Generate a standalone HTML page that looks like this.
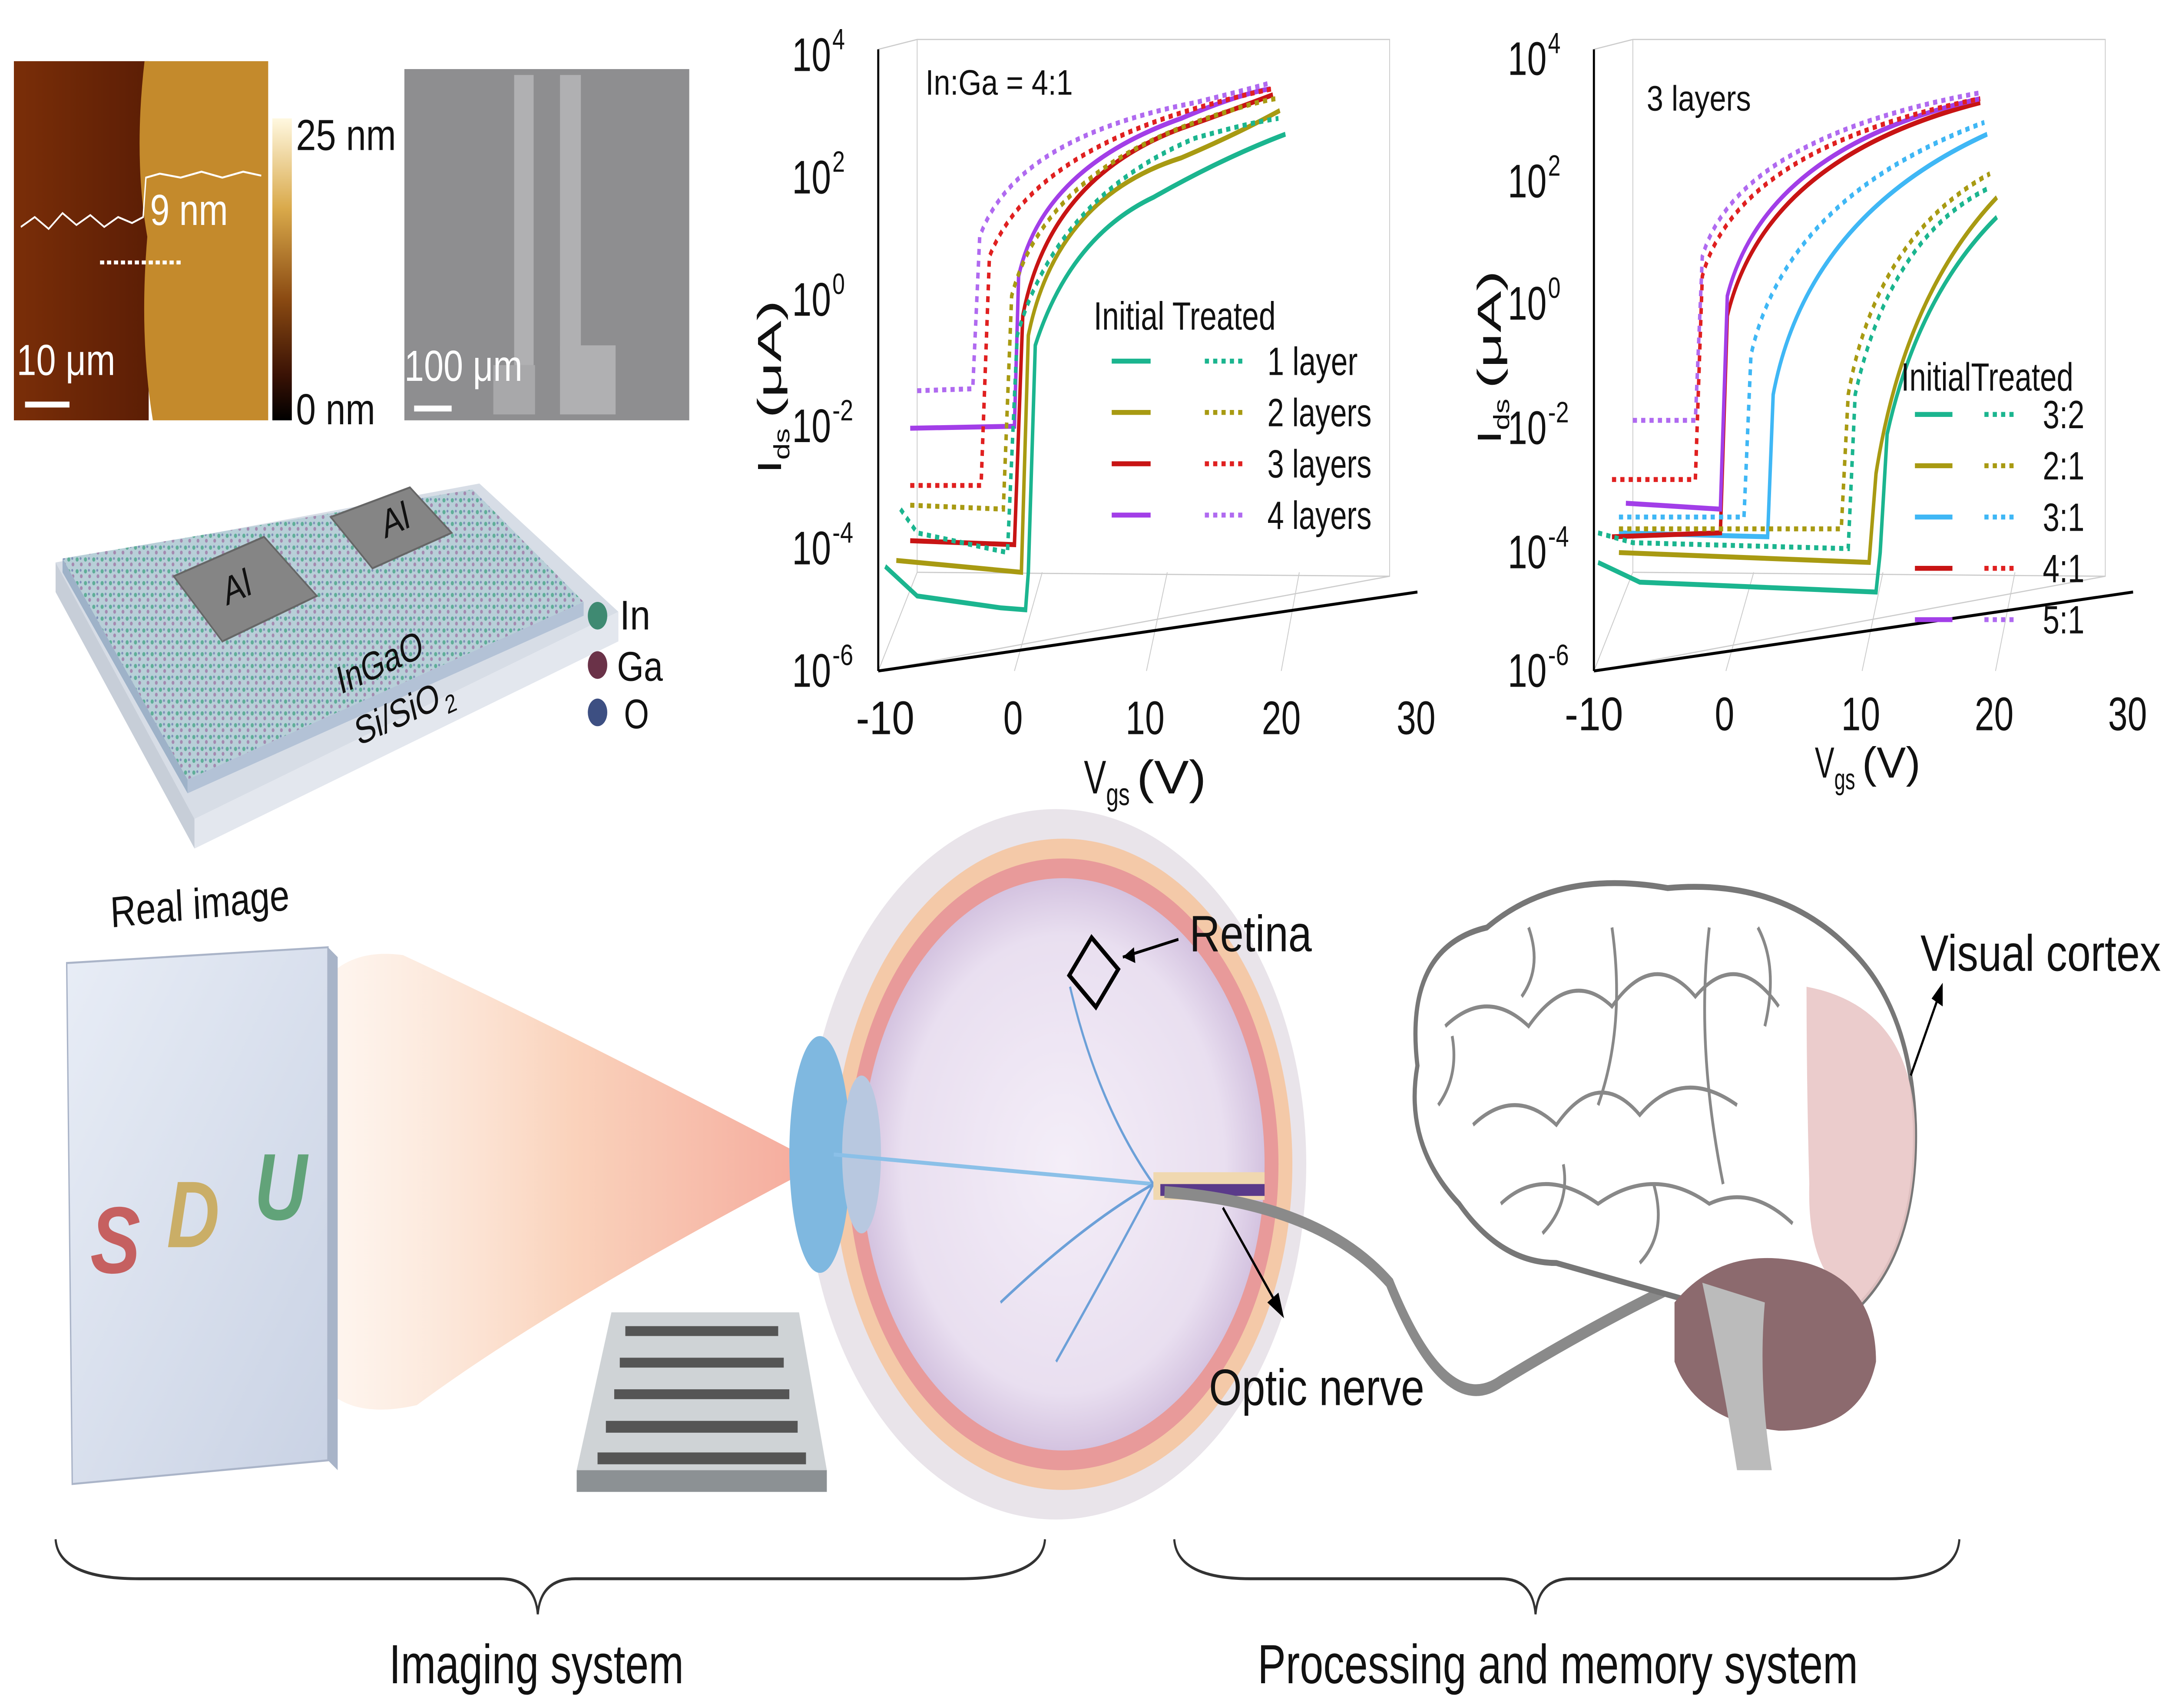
<!DOCTYPE html>
<html><head><meta charset="utf-8">
<style>
html,body{margin:0;padding:0;background:#fff;width:100%;height:100%;overflow:hidden;}
svg{display:block;width:100vw;height:100vh;}
text{font-family:"Liberation Sans",Arial,sans-serif;fill:#111;}
</style></head>
<body>
<svg viewBox="0 0 1563 865.5" preserveAspectRatio="none" xmlns="http://www.w3.org/2000/svg">
<defs>
<linearGradient id="cb" x1="0" y1="0" x2="0" y2="1">
<stop offset="0" stop-color="#fff8e0"/><stop offset="0.3" stop-color="#d9a94a"/><stop offset="0.6" stop-color="#8a4a12"/><stop offset="0.85" stop-color="#3a1205"/><stop offset="1" stop-color="#000"/></linearGradient>
<linearGradient id="afmL" x1="0" y1="0" x2="1" y2="0"><stop offset="0" stop-color="#7a2e08"/><stop offset="1" stop-color="#5c1e05"/></linearGradient>
<linearGradient id="cone" x1="1" y1="0" x2="0" y2="0"><stop offset="0" stop-color="#f39a8a"/><stop offset="0.5" stop-color="#f9cbb0"/><stop offset="1" stop-color="#fdeee2" stop-opacity="0.6"/></linearGradient>
<linearGradient id="panel" x1="0" y1="0" x2="1" y2="1"><stop offset="0" stop-color="#e8edf6"/><stop offset="1" stop-color="#c9d2e4"/></linearGradient>
<radialGradient id="eyeg" cx="0.5" cy="0.5" r="0.5"><stop offset="0" stop-color="#f4eef8"/><stop offset="0.8" stop-color="#e9dff0"/><stop offset="1" stop-color="#d4c3e0"/></radialGradient>
<pattern id="dots" width="6" height="6" patternUnits="userSpaceOnUse"><rect width="6" height="6" fill="#b8cfd8"/><circle cx="1.5" cy="1.5" r="1.1" fill="#5fae98"/><circle cx="4.5" cy="4" r="1" fill="#a48ab0"/><circle cx="4" cy="1" r="0.7" fill="#7f8fb8"/></pattern>
</defs>

<!-- AFM -->
<rect x="10" y="31" width="97" height="182" fill="url(#afmL)"/>
<path d="M104,31 L193,31 L193,213 L110,213 Q100,170 106,120 Q96,80 104,31Z" fill="#c48a2c"/>
<polyline points="15,115 25,110 35,116 45,108 55,114 65,109 75,115 85,110 95,113 103,110 105,90 115,88 130,90 145,87 160,90 175,87 188,89" fill="none" stroke="#fff" stroke-width="1"/>
<line x1="72" y1="133" x2="132" y2="133" stroke="#fff" stroke-width="2" stroke-dasharray="3,2"/>
<text x="108" y="114" font-size="22" textLength="56" lengthAdjust="spacingAndGlyphs" style="fill:#fff">9 nm</text>
<text x="12" y="190" font-size="22" textLength="71" lengthAdjust="spacingAndGlyphs" style="fill:#fff">10 μm</text>
<line x1="18" y1="205" x2="50" y2="205" stroke="#fff" stroke-width="3"/>
<rect x="196" y="60" width="14" height="153" fill="url(#cb)"/>
<text x="213" y="76" font-size="22" textLength="72" lengthAdjust="spacingAndGlyphs">25 nm</text>
<text x="213" y="215" font-size="22" textLength="57" lengthAdjust="spacingAndGlyphs">0 nm</text>
<!-- SEM -->
<rect x="291" y="35" width="205" height="178" fill="#8e8e90"/>
<rect x="370" y="38" width="14" height="170" fill="#b0b0b2"/>
<rect x="403" y="38" width="15" height="140" fill="#b0b0b2"/>
<rect x="403" y="175" width="40" height="35" fill="#b0b0b2"/>
<rect x="355" y="185" width="30" height="25" fill="#a8a8aa"/>
<text x="291" y="193" font-size="22" textLength="85" lengthAdjust="spacingAndGlyphs" style="fill:#fff">100 μm</text>
<line x1="298" y1="207" x2="325" y2="207" stroke="#fff" stroke-width="3"/>

<!-- device -->
<polygon points="40,285 345,245 445,310 140,415" fill="#d7dde6"/>
<polygon points="40,285 140,415 140,430 40,300" fill="#c7ced8"/>
<polygon points="140,415 445,310 445,325 140,430" fill="#e3e7ee"/>
<polygon points="45,283 340,248 420,305 135,395" fill="url(#dots)"/>
<polygon points="45,283 135,395 135,402 45,290" fill="#9eb2c8"/>
<polygon points="135,395 420,305 420,312 135,402" fill="#b3c2d6"/>
<polygon points="125,292 190,272 228,302 160,325" fill="#858585" stroke="#666"/>
<polygon points="238,262 295,247 325,270 268,288" fill="#858585" stroke="#666"/>
<text x="163" y="307" font-size="20" textLength="20" lengthAdjust="spacingAndGlyphs" transform="rotate(-18 163 307)">Al</text>
<text x="277" y="273" font-size="20" textLength="20" lengthAdjust="spacingAndGlyphs" transform="rotate(-18 277 273)">Al</text>
<text x="245" y="352" font-size="20" textLength="64" lengthAdjust="spacingAndGlyphs" transform="rotate(-18 245 352)">InGaO</text>
<text x="258" y="378" font-size="20" textLength="63" lengthAdjust="spacingAndGlyphs" transform="rotate(-18 258 378)">Si/SiO</text>
<text x="322" y="362" font-size="13" textLength="8" lengthAdjust="spacingAndGlyphs" transform="rotate(-18 322 362)">2</text>
<circle cx="430" cy="312" r="7" fill="#3f8a72"/><text x="446" y="319" font-size="21" textLength="22" lengthAdjust="spacingAndGlyphs">In</text>
<circle cx="430" cy="337" r="7" fill="#6a3248"/><text x="444" y="345" font-size="21" textLength="33" lengthAdjust="spacingAndGlyphs">Ga</text>
<circle cx="430" cy="361" r="7" fill="#3d4f82"/><text x="449" y="369" font-size="21" textLength="18" lengthAdjust="spacingAndGlyphs">O</text>

<!-- plot 1 -->
<g stroke="#ccc" stroke-width="0.6" fill="none">
<polyline points="632,25 660,20 1000,20 1000,292 632,340"/>
<line x1="660" y1="20" x2="660" y2="290"/><line x1="660" y1="290" x2="1000" y2="292"/>
<line x1="632" y1="340" x2="660" y2="290"/>
<line x1="730" y1="340" x2="750" y2="290"/><line x1="825" y1="340" x2="840" y2="290"/><line x1="922" y1="340" x2="935" y2="290"/>
</g>
<line x1="632" y1="25" x2="632" y2="340" stroke="#000" stroke-width="1.5"/>
<line x1="632" y1="340" x2="1020" y2="300" stroke="#000" stroke-width="1.5"/>
<g font-size="24" lengthAdjust="spacingAndGlyphs">
<text x="570" y="36" textLength="28" lengthAdjust="spacingAndGlyphs">10</text><text x="599" y="25" font-size="15" textLength="9" lengthAdjust="spacingAndGlyphs">4</text>
<text x="570" y="98" textLength="28" lengthAdjust="spacingAndGlyphs">10</text><text x="599" y="87" font-size="15" textLength="9" lengthAdjust="spacingAndGlyphs">2</text>
<text x="570" y="160" textLength="28" lengthAdjust="spacingAndGlyphs">10</text><text x="599" y="149" font-size="15" textLength="9" lengthAdjust="spacingAndGlyphs">0</text>
<text x="570" y="224" textLength="28" lengthAdjust="spacingAndGlyphs">10</text><text x="599" y="213" font-size="15" textLength="15" lengthAdjust="spacingAndGlyphs">-2</text>
<text x="570" y="286" textLength="28" lengthAdjust="spacingAndGlyphs">10</text><text x="599" y="275" font-size="15" textLength="15" lengthAdjust="spacingAndGlyphs">-4</text>
<text x="570" y="348" textLength="28" lengthAdjust="spacingAndGlyphs">10</text><text x="599" y="337" font-size="15" textLength="15" lengthAdjust="spacingAndGlyphs">-6</text>
<text x="616" y="372" textLength="42" lengthAdjust="spacingAndGlyphs">-10</text><text x="722" y="372" textLength="14" lengthAdjust="spacingAndGlyphs">0</text><text x="810" y="372" textLength="28" lengthAdjust="spacingAndGlyphs">10</text><text x="908" y="372" textLength="28" lengthAdjust="spacingAndGlyphs">20</text><text x="1005" y="372" textLength="28" lengthAdjust="spacingAndGlyphs">30</text>
<text x="780" y="402" textLength="16" lengthAdjust="spacingAndGlyphs">V</text><text x="796" y="408" font-size="16" textLength="17" lengthAdjust="spacingAndGlyphs">gs</text><text x="818" y="402" textLength="50" lengthAdjust="spacingAndGlyphs">(V)</text>
<g transform="translate(562,240) rotate(-90)"><text x="0" y="0" textLength="7" lengthAdjust="spacingAndGlyphs">I</text><text x="7" y="6" font-size="16" textLength="16" lengthAdjust="spacingAndGlyphs">ds</text><text x="28" y="0" textLength="60" lengthAdjust="spacingAndGlyphs">(μA)</text></g>
</g>
<text x="666" y="48" font-size="18" textLength="106" lengthAdjust="spacingAndGlyphs">In:Ga = 4:1</text>
<g fill="none" stroke-width="2.5">
<path d="M637,287 L660,302 L720,308 L738,309 L740,290 L745,175 Q770,120 830,100 Q880,80 925,68" stroke="#1bb58f"/>
<path d="M645,284 L735,290 L740,170 Q760,100 850,80 Q890,68 921,56" stroke="#a89a12"/>
<path d="M655,274 L730,276 L736,160 Q755,90 850,65 Q890,55 916,48" stroke="#c81414"/>
<path d="M655,217 L730,216 L733,140 Q750,85 850,60 Q890,48 914,45" stroke="#a23ee8"/>
<g stroke-dasharray="3,3">
<path d="M648,258 L660,270 L725,280 L732,170 Q760,100 860,70 Q900,62 920,60" stroke="#1bb58f"/>
<path d="M655,256 L722,258 L728,150 Q750,90 860,62 Q900,52 918,50" stroke="#a89a12"/>
<path d="M655,246 L706,246 L712,130 Q740,80 860,55 Q900,47 916,45" stroke="#e02020"/>
<path d="M660,198 L700,197 L705,120 Q730,70 860,52 Q900,45 914,42" stroke="#b06af0"/>
</g>
</g>
<text x="787" y="167" font-size="20" textLength="131" lengthAdjust="spacingAndGlyphs">Initial Treated</text>
<g stroke-width="2.5">
<line x1="800" y1="183" x2="828" y2="183" stroke="#1bb58f"/><line x1="867" y1="183" x2="895" y2="183" stroke="#1bb58f" stroke-dasharray="3,3"/>
<line x1="800" y1="209" x2="828" y2="209" stroke="#a89a12"/><line x1="867" y1="209" x2="895" y2="209" stroke="#a89a12" stroke-dasharray="3,3"/>
<line x1="800" y1="235" x2="828" y2="235" stroke="#c81414"/><line x1="867" y1="235" x2="895" y2="235" stroke="#e02020" stroke-dasharray="3,3"/>
<line x1="800" y1="261" x2="828" y2="261" stroke="#a23ee8"/><line x1="867" y1="261" x2="895" y2="261" stroke="#b06af0" stroke-dasharray="3,3"/>
</g>
<g font-size="20"><text x="912" y="190" textLength="65" lengthAdjust="spacingAndGlyphs">1 layer</text><text x="912" y="216" textLength="75" lengthAdjust="spacingAndGlyphs">2 layers</text><text x="912" y="242" textLength="75" lengthAdjust="spacingAndGlyphs">3 layers</text><text x="912" y="268" textLength="75" lengthAdjust="spacingAndGlyphs">4 layers</text></g>

<!-- plot 2 -->
<g stroke="#ccc" stroke-width="0.6" fill="none">
<polyline points="1147,25 1175,20 1515,20 1515,292 1147,340"/>
<line x1="1175" y1="20" x2="1175" y2="290"/><line x1="1175" y1="290" x2="1515" y2="292"/>
<line x1="1147" y1="340" x2="1175" y2="290"/>
<line x1="1242" y1="340" x2="1262" y2="290"/><line x1="1340" y1="340" x2="1355" y2="290"/><line x1="1436" y1="340" x2="1450" y2="290"/>
</g>
<line x1="1147" y1="25" x2="1147" y2="340" stroke="#000" stroke-width="1.5"/>
<line x1="1147" y1="340" x2="1535" y2="300" stroke="#000" stroke-width="1.5"/>
<g font-size="24">
<text x="1085" y="38" textLength="28" lengthAdjust="spacingAndGlyphs">10</text><text x="1114" y="27" font-size="15" textLength="9" lengthAdjust="spacingAndGlyphs">4</text>
<text x="1085" y="100" textLength="28" lengthAdjust="spacingAndGlyphs">10</text><text x="1114" y="89" font-size="15" textLength="9" lengthAdjust="spacingAndGlyphs">2</text>
<text x="1085" y="162" textLength="28" lengthAdjust="spacingAndGlyphs">10</text><text x="1114" y="151" font-size="15" textLength="9" lengthAdjust="spacingAndGlyphs">0</text>
<text x="1085" y="225" textLength="28" lengthAdjust="spacingAndGlyphs">10</text><text x="1114" y="214" font-size="15" textLength="15" lengthAdjust="spacingAndGlyphs">-2</text>
<text x="1085" y="288" textLength="28" lengthAdjust="spacingAndGlyphs">10</text><text x="1114" y="277" font-size="15" textLength="15" lengthAdjust="spacingAndGlyphs">-4</text>
<text x="1085" y="348" textLength="28" lengthAdjust="spacingAndGlyphs">10</text><text x="1114" y="337" font-size="15" textLength="15" lengthAdjust="spacingAndGlyphs">-6</text>
<text x="1126" y="370" textLength="42" lengthAdjust="spacingAndGlyphs">-10</text><text x="1234" y="370" textLength="14" lengthAdjust="spacingAndGlyphs">0</text><text x="1325" y="370" textLength="28" lengthAdjust="spacingAndGlyphs">10</text><text x="1421" y="370" textLength="28" lengthAdjust="spacingAndGlyphs">20</text><text x="1517" y="370" textLength="28" lengthAdjust="spacingAndGlyphs">30</text>
<text x="1306" y="394" font-size="22" textLength="14" lengthAdjust="spacingAndGlyphs">V</text><text x="1320" y="400" font-size="15" textLength="15" lengthAdjust="spacingAndGlyphs">gs</text><text x="1340" y="394" font-size="22" textLength="42" lengthAdjust="spacingAndGlyphs">(V)</text>
<g transform="translate(1080,225) rotate(-90)"><text x="0" y="0" textLength="7" lengthAdjust="spacingAndGlyphs">I</text><text x="7" y="6" font-size="16" textLength="16" lengthAdjust="spacingAndGlyphs">ds</text><text x="28" y="0" textLength="60" lengthAdjust="spacingAndGlyphs">(μA)</text></g>
</g>
<text x="1185" y="56" font-size="18" textLength="75" lengthAdjust="spacingAndGlyphs">3 layers</text>
<g fill="none" stroke-width="2.5">
<path d="M1150,285 L1180,295 L1350,300 L1353,280 L1358,220 Q1380,150 1437,110" stroke="#1bb58f"/>
<path d="M1165,280 L1345,285 L1350,240 Q1370,150 1437,100" stroke="#a89a12"/>
<path d="M1165,270 L1272,272 L1276,200 Q1300,110 1430,68" stroke="#3fb7f5"/>
<path d="M1160,272 L1238,270 L1243,160 Q1270,80 1425,52" stroke="#c81414"/>
<path d="M1170,255 L1238,258 L1243,150 Q1270,75 1425,50" stroke="#a23ee8"/>
<g stroke-dasharray="3,3">
<path d="M1150,270 L1175,275 L1330,278 L1335,200 Q1360,120 1432,95" stroke="#1bb58f"/>
<path d="M1165,268 L1325,268 L1330,200 Q1350,120 1432,88" stroke="#a89a12"/>
<path d="M1165,262 L1255,262 L1260,180 Q1285,100 1428,62" stroke="#3fb7f5"/>
<path d="M1160,243 L1220,243 L1225,140 Q1250,75 1425,50" stroke="#e02020"/>
<path d="M1175,213 L1220,213 L1225,130 Q1250,70 1425,47" stroke="#b06af0"/>
</g>
</g>
<text x="1368" y="198" font-size="20" textLength="124" lengthAdjust="spacingAndGlyphs">InitialTreated</text>
<g stroke-width="2.5">
<line x1="1378" y1="210" x2="1405" y2="210" stroke="#1bb58f"/><line x1="1428" y1="210" x2="1452" y2="210" stroke="#1bb58f" stroke-dasharray="3,3"/>
<line x1="1378" y1="236" x2="1405" y2="236" stroke="#a89a12"/><line x1="1428" y1="236" x2="1452" y2="236" stroke="#a89a12" stroke-dasharray="3,3"/>
<line x1="1378" y1="262" x2="1405" y2="262" stroke="#3fb7f5"/><line x1="1428" y1="262" x2="1452" y2="262" stroke="#3fb7f5" stroke-dasharray="3,3"/>
<line x1="1378" y1="288" x2="1405" y2="288" stroke="#c81414"/><line x1="1428" y1="288" x2="1452" y2="288" stroke="#e02020" stroke-dasharray="3,3"/>
<line x1="1378" y1="314" x2="1405" y2="314" stroke="#a23ee8"/><line x1="1428" y1="314" x2="1452" y2="314" stroke="#b06af0" stroke-dasharray="3,3"/>
</g>
<g font-size="20"><text x="1470" y="217" textLength="30" lengthAdjust="spacingAndGlyphs">3:2</text><text x="1470" y="243" textLength="30" lengthAdjust="spacingAndGlyphs">2:1</text><text x="1470" y="269" textLength="30" lengthAdjust="spacingAndGlyphs">3:1</text><text x="1470" y="295" textLength="30" lengthAdjust="spacingAndGlyphs">4:1</text><text x="1470" y="321" textLength="30" lengthAdjust="spacingAndGlyphs">5:1</text></g>

<!-- bottom: real image -->
<text x="80" y="470" font-size="22" textLength="129" lengthAdjust="spacingAndGlyphs" transform="rotate(-4 80 470)">Real image</text>
<path d="M230,500 Q250,480 290,484 Q400,520 590,590 Q400,660 300,712 Q250,720 230,700Z" fill="url(#cone)" opacity="0.85"/>
<polygon points="48,488 236,480 236,740 52,752" fill="url(#panel)" stroke="#aab4c8"/>
<polygon points="236,480 243,485 243,745 236,740" fill="#a8b4c8"/>
<text x="65" y="645" font-size="48" font-weight="bold" font-style="italic" textLength="36" lengthAdjust="spacingAndGlyphs" style="fill:#c24a48" opacity="0.85">S</text>
<text x="120" y="632" font-size="48" font-weight="bold" font-style="italic" textLength="38" lengthAdjust="spacingAndGlyphs" style="fill:#c8a650" opacity="0.85">D</text>
<text x="183" y="618" font-size="48" font-weight="bold" font-style="italic" textLength="38" lengthAdjust="spacingAndGlyphs" style="fill:#4e9a66" opacity="0.85">U</text>

<!-- chip -->
<polygon points="440,665 575,665 595,745 415,745" fill="#cfd3d6"/>
<polygon points="415,745 595,745 595,756 415,756" fill="#8c9194"/>
<g fill="#555">
<rect x="450" y="672" width="110" height="5"/><rect x="446" y="688" width="118" height="5"/><rect x="442" y="704" width="126" height="5"/><rect x="436" y="720" width="138" height="6"/><rect x="430" y="736" width="150" height="6"/>
</g>

<!-- eye -->
<circle cx="760" cy="590" r="180" fill="#e9e4ea"/>
<circle cx="765" cy="590" r="165" fill="#f4c9a8"/>
<circle cx="765" cy="590" r="155" fill="#e89a9a"/>
<circle cx="765" cy="590" r="145" fill="url(#eyeg)"/>
<ellipse cx="590" cy="585" rx="22" ry="60" fill="#7fb8e0"/>
<ellipse cx="620" cy="585" rx="14" ry="40" fill="#b8c8e0"/>
<path d="M600,585 L830,600" stroke="#8bc0e8" stroke-width="2"/>
<path d="M830,600 Q790,560 770,500 M830,600 Q780,620 720,660 M830,600 Q800,640 760,690" stroke="#6ca0d8" stroke-width="1.5" fill="none"/>
<rect x="830" y="594" width="80" height="14" fill="#f0d8b0"/>
<rect x="835" y="600" width="75" height="6" fill="#5a3a8a"/>
<rect x="775" y="480" width="25" height="25" fill="none" stroke="#000" stroke-width="2.5" transform="rotate(40 787 492)"/>
<line x1="808" y1="485" x2="848" y2="476" stroke="#000" stroke-width="1.5"/>
<polygon points="808,485 816,480 817,488" fill="#000"/>
<text x="856" y="482" font-size="26" textLength="88" lengthAdjust="spacingAndGlyphs">Retina</text>
<!-- optic nerve -->
<path d="M838,604 Q950,610 1000,650 Q1040,720 1080,700 Q1150,670 1210,650" fill="none" stroke="#8a8a8a" stroke-width="6"/>
<line x1="880" y1="612" x2="918" y2="660" stroke="#000" stroke-width="1.5"/>
<polygon points="924,668 912,660 920,655" fill="#000"/>
<text x="870" y="712" font-size="26" textLength="155" lengthAdjust="spacingAndGlyphs">Optic nerve</text>

<!-- brain -->
<path d="M1020,540 Q1010,480 1070,470 Q1120,440 1200,450 Q1280,445 1330,480 Q1375,510 1378,570 Q1380,630 1340,660 Q1290,680 1220,660 Q1170,650 1120,640 Q1080,640 1050,610 Q1010,580 1020,540Z" fill="#fff" stroke="#777" stroke-width="3"/>
<path d="M1300,500 Q1375,510 1378,570 Q1380,630 1340,660 Q1300,650 1302,600 Q1300,550 1300,500Z" fill="#e9c6c6" opacity="0.9"/>
<g fill="none" stroke="#888" stroke-width="2">
<path d="M1040,520 Q1070,500 1100,520 Q1130,490 1160,510 Q1190,480 1220,505 Q1250,480 1280,510"/>
<path d="M1060,570 Q1090,550 1120,570 Q1150,540 1180,565 Q1210,540 1250,560"/>
<path d="M1080,610 Q1110,590 1150,610 Q1190,590 1230,610 Q1260,600 1290,620"/>
<path d="M1160,470 Q1170,520 1150,560 M1230,470 Q1220,530 1240,600"/>
<path d="M1035,560 Q1050,545 1045,525 M1100,470 Q1110,490 1095,505 M1265,470 Q1280,490 1270,520 M1110,625 Q1130,610 1125,590 M1180,640 Q1200,625 1190,600"/>
</g>
<path d="M1205,660 Q1240,630 1300,640 Q1350,650 1350,690 Q1340,725 1280,725 Q1220,720 1205,690Z" fill="#8c6a6e"/>
<path d="M1225,650 Q1240,700 1250,745 L1275,745 Q1265,700 1270,660Z" fill="#bbb"/>
<text x="1382" y="492" font-size="26" textLength="173" lengthAdjust="spacingAndGlyphs">Visual cortex</text>
<line x1="1375" y1="545" x2="1395" y2="505" stroke="#000" stroke-width="1.5"/>
<polygon points="1398,498 1398,510 1390,506" fill="#000"/>

<!-- braces -->
<path d="M40,780 Q42,800 100,800 L360,800 Q385,800 387,818 Q389,800 414,800 L690,800 Q750,800 752,780" fill="none" stroke="#333" stroke-width="1.5"/>
<path d="M845,780 Q847,800 900,800 L1080,800 Q1103,800 1105,818 Q1107,800 1130,800 L1360,800 Q1408,800 1410,780" fill="none" stroke="#333" stroke-width="1.5"/>
<text x="280" y="853" font-size="28" textLength="212" lengthAdjust="spacingAndGlyphs">Imaging system</text>
<text x="905" y="853" font-size="28" textLength="432" lengthAdjust="spacingAndGlyphs">Processing and memory system</text>
</svg>
</body></html>
